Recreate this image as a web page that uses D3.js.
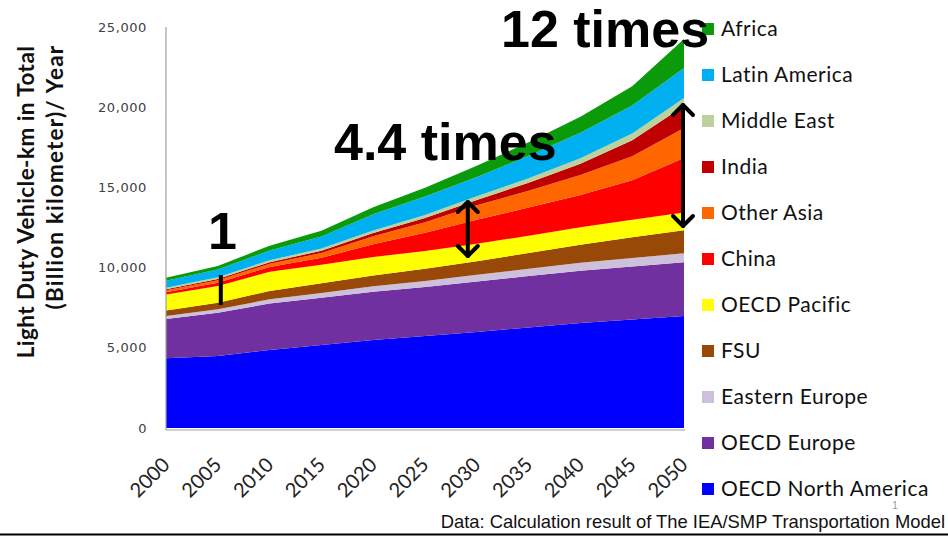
<!DOCTYPE html>
<html><head><meta charset="utf-8">
<script src="https://cdn.jsdelivr.net/npm/d3@7"></script>
<style>body{margin:0;background:#fff}svg{display:block}</style>
</head><body>
<svg id="c" width="948" height="536"></svg>
<script>
const years = [2000,2005,2010,2015,2020,2025,2030,2035,2040,2045,2050];
const oecdNorthAmerica = [4350,4490,4860,5170,5490,5740,5980,6270,6550,6770,6980];
const oecdEurope       = [2450,2700,2900,2950,3000,3050,3150,3200,3250,3300,3350];
const easternEurope    = [180,220,260,300,340,380,420,460,500,530,560];
const fsu              = [340,400,520,600,680,760,850,980,1130,1290,1440];
const oecdPacific      = [1000,1050,1200,1150,1150,1100,1080,1080,1090,1100,1110];
const china            = [150,200,300,440,800,1150,1500,1750,2000,2450,3400];
const otherAsia        = [120,150,200,300,500,650,900,1050,1250,1500,1870];
const india            = [60,80,100,140,200,260,340,500,700,1000,1370];
const middleEast       = [100,110,120,140,160,190,230,280,340,420,500];
const latinAmerica     = [430,480,600,750,1000,1150,1200,1400,1600,1750,1870];
const africa           = [180,220,300,350,450,550,700,850,1000,1200,1800];
const seriesNames = ["OECD North America","OECD Europe","Eastern Europe","FSU","OECD Pacific","China","Other Asia","India","Middle East","Latin America","Africa"];
const seriesValues = [oecdNorthAmerica,oecdEurope,easternEurope,fsu,oecdPacific,china,otherAsia,india,middleEast,latinAmerica,africa];
const seriesColors = ["#0000ff","#7030a0","#ccc0da","#984807","#ffff00","#ff0000","#ff6600","#c00000","#bcd29c","#00b0f0","#0a9a0a"];
const yTicks = [0,5000,10000,15000,20000,25000];
const xTicks = years;

const svg = d3.select("#c");
const x = d3.scaleLinear().domain([2000,2050]).range([166,684]);
const y = d3.scaleLinear().domain([0,25000]).range([428,27]);

const table = years.map((yr,i)=>{const r={year:yr}; seriesNames.forEach((n,k)=>r[n]=seriesValues[k][i]); return r;});
const stack = d3.stack().keys(seriesNames)(table);
const area = d3.area().x(d=>x(d.data.year)).y0(d=>y(d[0])).y1(d=>y(d[1]));

svg.append("g").selectAll("path").data(stack).join("path")
  .attr("d",area).attr("fill",(d,i)=>seriesColors[i]);

// axes lines
svg.append("line").attr("x1",166).attr("x2",166).attr("y1",y(25000)).attr("y2",430).attr("stroke","#a0a0a0").attr("stroke-width",1.2);
svg.append("line").attr("x1",166).attr("x2",685).attr("y1",430).attr("y2",430).attr("stroke","#a0a0a0").attr("stroke-width",1.2);

// y axis
const yAxis = d3.axisLeft(y).tickValues(yTicks).tickFormat(d3.format(",")).tickSize(0).tickPadding(0);
const gy = svg.append("g").attr("transform","translate(147,0)").call(yAxis);
gy.select(".domain").remove();
gy.selectAll("text").attr("font-family","DejaVu Sans").attr("font-size",13).attr("letter-spacing","0.6px").attr("fill","#404040");

// x axis
const xAxis = d3.axisBottom(x).tickValues(xTicks).tickFormat(d3.format("d")).tickSize(0).tickPadding(0);
const gx = svg.append("g").call(xAxis);
gx.select(".domain").remove();
gx.selectAll(".tick").attr("transform",d=>`translate(${x(d)+5},466)`);
gx.selectAll("text").attr("font-family","Lato").attr("font-size",20).attr("fill","#222")
  .attr("text-anchor","end").attr("x",0).attr("y",0).attr("dy",0).attr("transform","rotate(-45)");

// y title
svg.append("text").attr("font-family","Lato").attr("font-weight","bold").attr("font-size",22.5).attr("letter-spacing","0.45px").attr("fill","#111")
  .attr("text-anchor","middle").attr("transform","translate(34,202) rotate(-90)").text("Light Duty Vehicle-km in Total");
svg.append("text").attr("font-family","Lato").attr("font-weight","bold").attr("font-size",22.5).attr("letter-spacing","1.2px").attr("fill","#111")
  .attr("text-anchor","middle").attr("transform","translate(63,177) rotate(-90)").text("(Billion kilometer)/ Year");

// legend (top to bottom: reverse order)
const legendOrder = seriesNames.map((n,i)=>i).reverse();
const lg = svg.append("g");
legendOrder.forEach((k,j)=>{
  const cy = 29 + j*46;
  lg.append("rect").attr("x",702).attr("y",cy-6).attr("width",12).attr("height",12).attr("fill",seriesColors[k]);
  lg.append("text").attr("x",721).attr("y",cy).attr("dy","0.35em").attr("font-family","Lato").attr("font-size",21).attr("letter-spacing","0.5px").attr("fill","#111").text(seriesNames[k]);
});

// annotations
const ann = (t,xx,yy)=>svg.append("text").attr("x",xx).attr("y",yy).attr("font-family","Liberation Sans").attr("font-weight","bold").attr("font-size",52).attr("fill","#000").text(t);
ann("12 times",501,47);
ann("4.4 times",334,160);
ann("1",208,249);
svg.append("line").attr("x1",x(2005)+3).attr("x2",x(2005)+3).attr("y1",275).attr("y2",305).attr("stroke","#000").attr("stroke-width",4);

function dblArrow(xx,y1,y2){
  const g = svg.append("g").attr("stroke","#000").attr("stroke-width",4).attr("fill","none").attr("stroke-linecap","round").attr("stroke-linejoin","round");
  g.append("line").attr("x1",xx).attr("x2",xx).attr("y1",y1+2).attr("y2",y2-2);
  g.append("path").attr("d",`M${xx-10},${y1+12}L${xx},${y1+2}L${xx+10},${y1+12}`);
  g.append("path").attr("d",`M${xx-10},${y2-12}L${xx},${y2-2}L${xx+10},${y2-12}`);
}
dblArrow(x(2030)-9,200,258);
dblArrow(x(2050)-1,103,228);

// footnote
svg.append("text").attr("x",945).attr("y",528).attr("text-anchor","end").attr("font-family","Liberation Sans").attr("font-size",18.4).attr("fill","#111").text("Data: Calculation result of The IEA/SMP Transportation Model");
svg.append("text").attr("x",895).attr("y",509).attr("text-anchor","middle").attr("font-family","Liberation Sans").attr("font-size",10).attr("fill","#999").text("1");
svg.append("line").attr("x1",0).attr("x2",948).attr("y1",534.5).attr("y2",534.5).attr("stroke","#000").attr("stroke-width",2);
</script>
</body></html>
